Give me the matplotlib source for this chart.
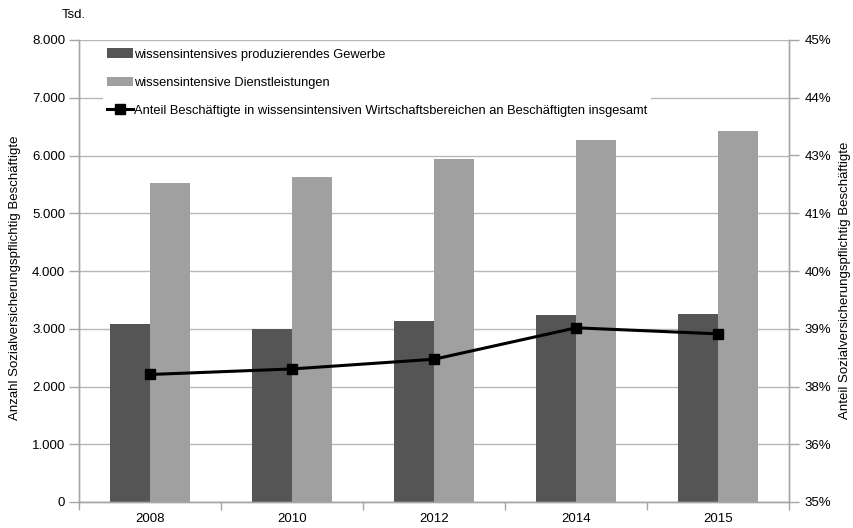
import matplotlib
matplotlib.use("Agg")
import matplotlib.pyplot as plt
import numpy as np

plt.rcParams['font.family'] = ['Liberation Sans', 'DejaVu Sans']

years = ["2008", "2010", "2012", "2014", "2015"]
produzierend = [3080, 3000, 3135, 3230, 3250]
dienstleistungen = [5525, 5620, 5945, 6275, 6425]
anteil = [37.76, 37.88, 38.09, 38.77, 38.64]

left_ticks = [0, 1000, 2000, 3000, 4000, 5000, 6000, 7000, 8000]
left_labels = ["0", "1.000", "2.000", "3.000", "4.000", "5.000", "6.000", "7.000", "8.000"]
right_ticks = [35, 36.25, 37.5, 38.75, 40, 41.25, 42.5, 43.75, 45]
right_labels = ["35%", "36%", "38%", "39%", "40%", "41%", "43%", "44%", "45%"]

label_prod = "wissensintensives produzierendes Gewerbe"
label_dienst = "wissensintensive Dienstleistungen"
label_anteil = "Anteil Beschäftigte in wissensintensiven Wirtschaftsbereichen an Beschäftigten insgesamt"

dark = "#555555"
light = "#a0a0a0"
axis_grey = "#a6a6a6"
grid_grey = "#b8b8b8"

fig = plt.figure(figsize=(8.54, 5.28), dpi=100)
ax = fig.add_axes([79/854, 1-502/528, 710/854, 462/528])
ax2 = ax.twinx()

x = np.arange(len(years))
w = 0.284
b1 = ax.bar(x - w/2, produzierend, w, color=dark, zorder=2, label=label_prod)
b2 = ax.bar(x + w/2, dienstleistungen, w, color=light, zorder=2, label=label_dienst)

ax.set_xlim(-0.5, len(years) - 0.5)
ax.set_ylim(0, 8000)
ax.set_yticks(left_ticks)
ax.set_yticklabels(left_labels)
ax.yaxis.grid(True, color=grid_grey, linewidth=1.0, zorder=0)
ax.set_axisbelow(True)

ax.set_xticks(x)
ax.set_xticklabels(years)
ax.set_xticks(np.arange(-0.5, len(years)), minor=True)
ax.tick_params(axis='x', which='major', length=0, pad=8, labelsize=9.5)
ax.tick_params(axis='x', which='minor', length=6, color=axis_grey, width=1)
ax.tick_params(axis='y', length=7, color=axis_grey, width=1, labelsize=9.5, pad=3)

for a in (ax, ax2):
    a.spines["top"].set_visible(False)
    for s in ["left", "right", "bottom"]:
        a.spines[s].set_color(axis_grey)
        a.spines[s].set_linewidth(1.0)

line, = ax2.plot(x, anteil, color="black", linewidth=2.2, marker="s",
                 markersize=7.5, zorder=3, label=label_anteil)
ax2.set_ylim(35, 45)
ax2.set_yticks(right_ticks)
ax2.set_yticklabels(right_labels)
ax2.tick_params(axis='y', length=7, color=axis_grey, width=1, labelsize=9.5, pad=4)

# Axis titles on both sides, rotated
fig.text(15/854, 1-278/528, "Anzahl Sozialversicherungspflichtig Beschäftigte",
         rotation=90, fontsize=9.5, ha="center", va="center")
fig.text(845/854, 1-280/528, "Anteil Sozialversicherungspflichtig Beschäftigte",
         rotation=90, fontsize=9.5, ha="center", va="center")

fig.text(62/854, 1-15/528, "Tsd.", fontsize=9.5, ha="left", va="center")

leg = ax2.legend(handles=[b1, b2, line], loc="upper left",
                 bbox_to_anchor=(0.034, 0.99), frameon=True, fancybox=False,
                 facecolor="white", edgecolor="none", framealpha=1.0,
                 fontsize=9.3, labelspacing=1.25, handlelength=2.0,
                 handletextpad=0.1, borderpad=0.3, borderaxespad=0)
leg.set_zorder(10)

fig.savefig("out.png", dpi=100)
